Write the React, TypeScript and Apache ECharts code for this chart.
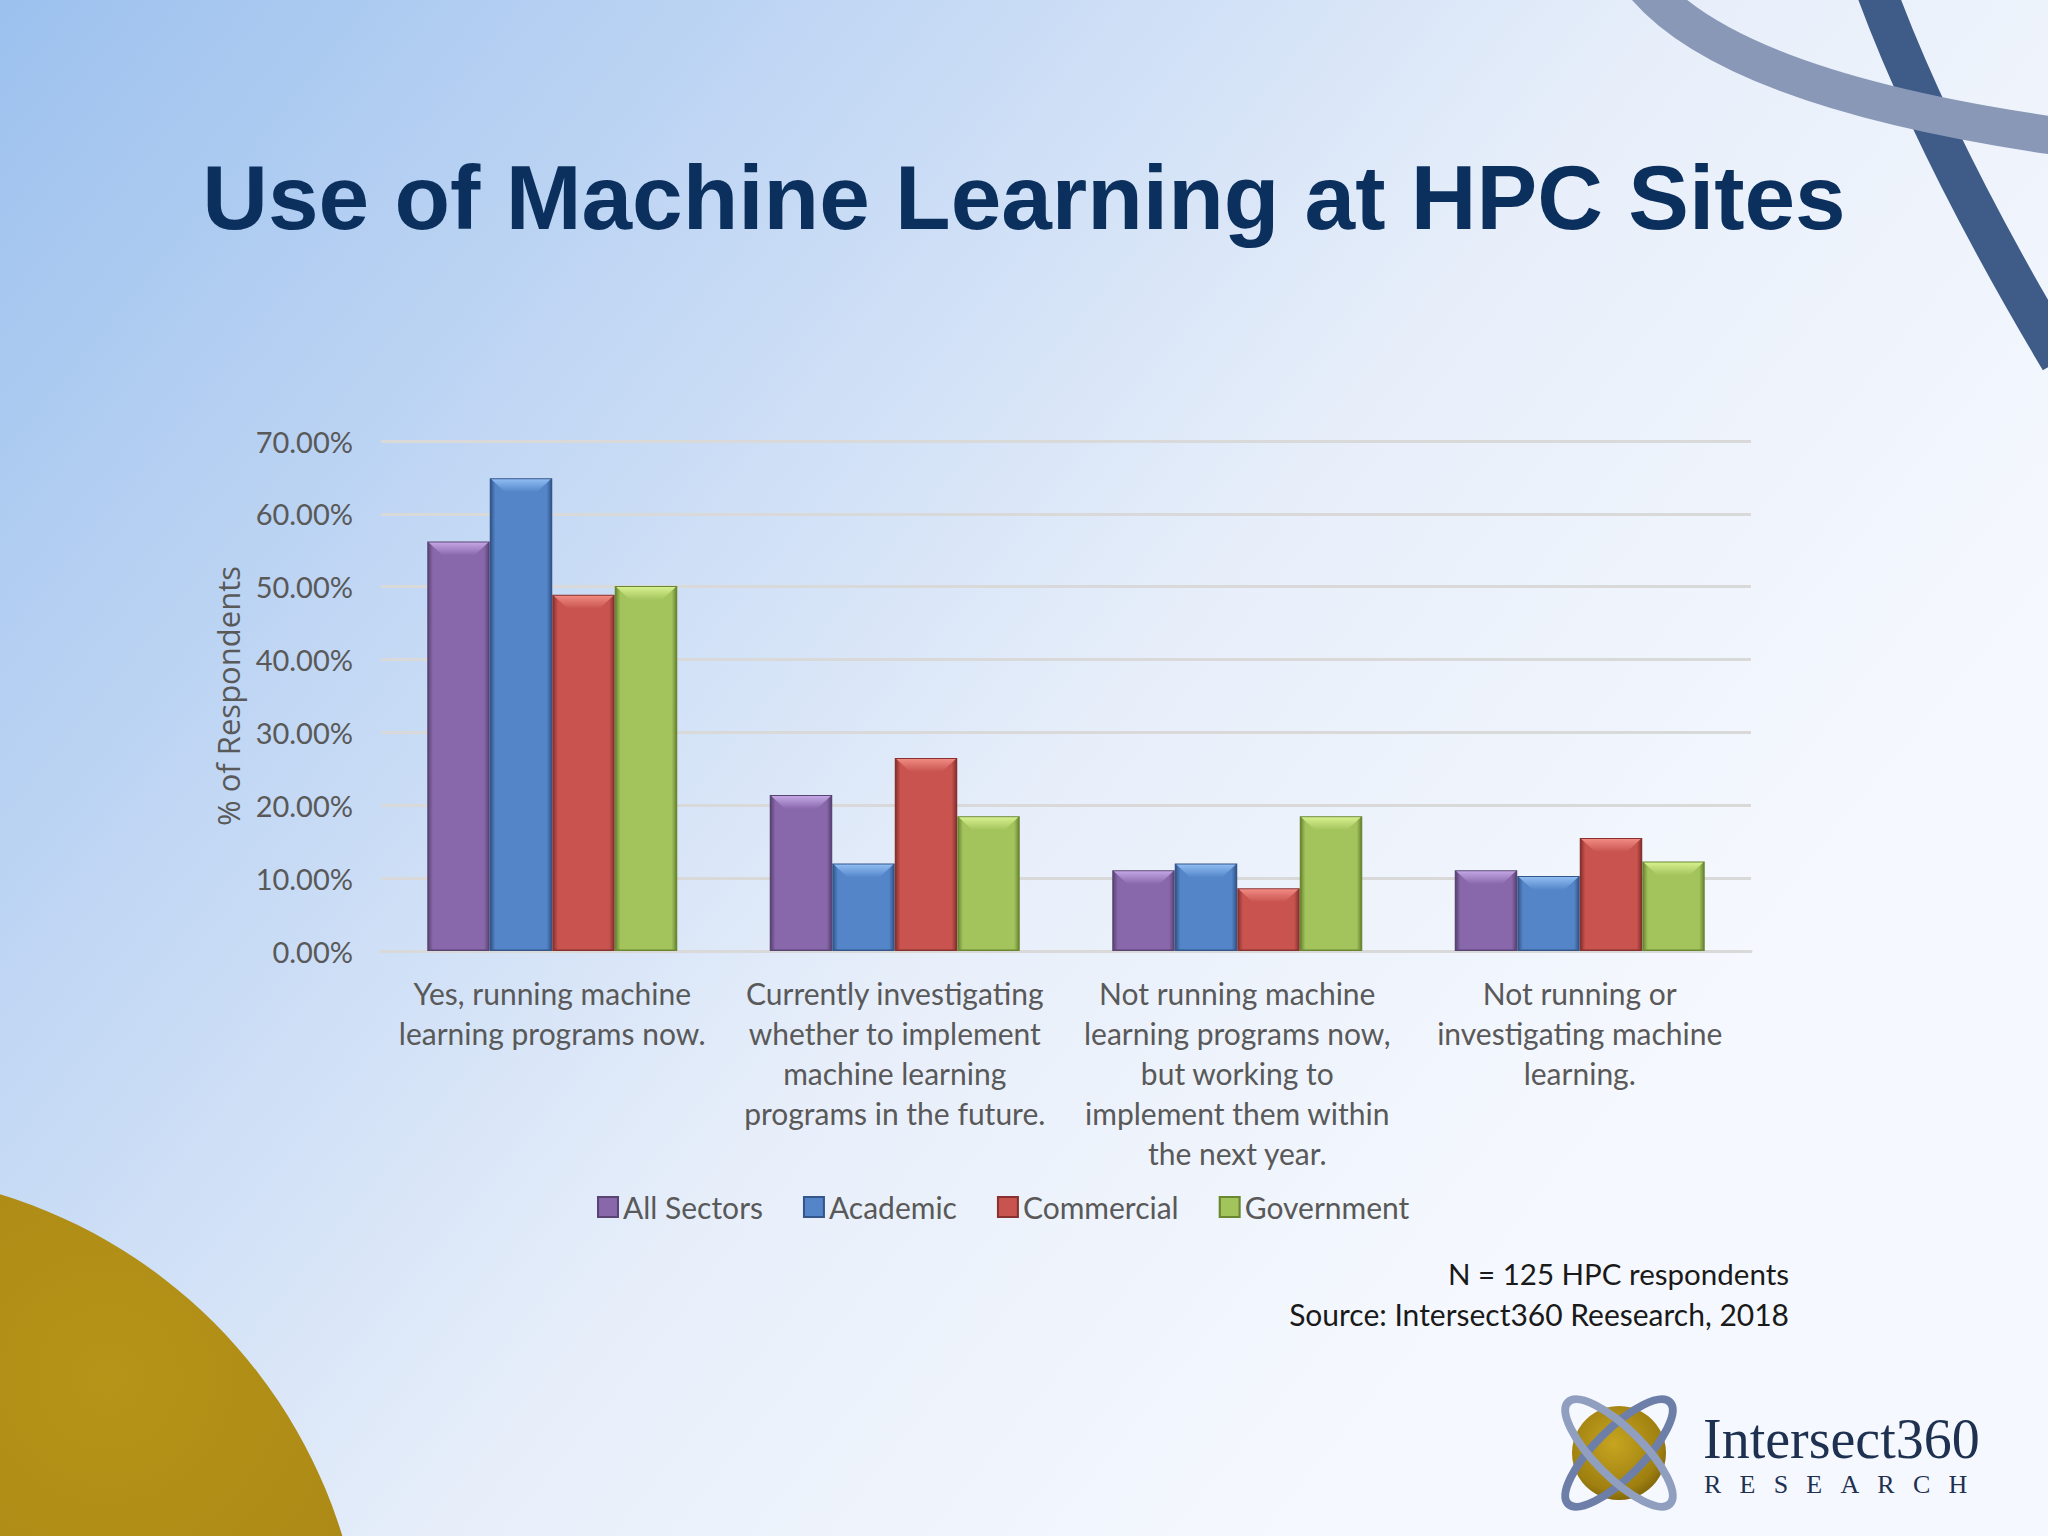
import React, { useEffect, useRef } from "react";
import * as echarts from "echarts";

const categories = [
  "Yes, running machine\nlearning programs now.",
  "Currently investigating\nwhether to implement\nmachine learning\nprograms in the future.",
  "Not running machine\nlearning programs now,\nbut working to\nimplement them within\nthe next year.",
  "Not running or\ninvestigating machine\nlearning.",
];
const seriesNames = ["All Sectors", "Academic", "Commercial", "Government"];
const allSectors = [56.2, 21.4, 11.1, 11.1];
const academic = [64.9, 12.0, 12.0, 10.3];
const commercial = [48.9, 26.5, 8.6, 15.5];
const government = [50.1, 18.5, 18.5, 12.3];
const yMin = 0;
const yMax = 70;
const yStep = 10;
const titleText = "Use of Machine Learning at HPC Sites";
const yAxisTitle = "% of Respondents";
const noteLines = ["N = 125 HPC respondents", "Source: Intersect360 Reesearch, 2018"];
const logoName = "Intersect360";
const logoSub = "RESEARCH";

const palette = [
  { base: "#8867ab", edge: "#5a4473", light: "#c3a6e4" },
  { base: "#5385c8", edge: "#34568a", light: "#8fbcf2" },
  { base: "#c8534f", edge: "#88322f", light: "#f08a82" },
  { base: "#a3c35d", edge: "#6a8732", light: "#d6f08e" },
];

const BAR_GAP_RATIO = 0.27;

function barFill(p: { base: string; edge: string; light: string }) {
  return new echarts.graphic.LinearGradient(0, 0, 1, 0, [
    { offset: 0, color: p.edge },
    { offset: 0.08, color: p.base },
    { offset: 0.92, color: p.base },
    { offset: 1, color: p.edge },
  ]);
}

export default function App() {
  const ref = useRef<HTMLDivElement>(null);
  useEffect(() => {
    document.body.style.margin = "0";
    const chart = echarts.init(ref.current!, null, { renderer: "svg" });
    const values = [allSectors, academic, commercial, government];
    const labelFont = "Lato, 'Noto Sans', sans-serif";
    const spacer = "\u2002\u2009";
    const option: any = {
      animation: false,
      backgroundColor: {
        type: "linear",
        x: 0,
        y: 0,
        x2: 0.9,
        y2: 0.55,
        colorStops: [
          { offset: 0, color: "#9cc1ee" },
          { offset: 0.38, color: "#c6daf5" },
          { offset: 0.68, color: "#e8effa" },
          { offset: 1, color: "#f5f8fe" },
        ],
      },
      graphic: [
        {
          type: "circle",
          z: -10,
          silent: true,
          shape: { cx: -150, cy: 1687, r: 515 },
          style: {
            fill: new echarts.graphic.RadialGradient(0.75, 0.2, 0.9, [
              { offset: 0, color: "#b69418" },
              { offset: 1, color: "#95720f" },
            ]),
          },
        },
        {
          type: "bezierCurve",
          z: -10,
          silent: true,
          shape: { x1: 1876, y1: -10, cpx1: 1935, cpy1: 150, x2: 2060, y2: 360 },
          style: { stroke: "#3f5c88", lineWidth: 40, fill: null },
        },
        {
          type: "bezierCurve",
          z: -9,
          silent: true,
          shape: { x1: 1645, y1: -14, cpx1: 1735, cpy1: 92, x2: 2070, y2: 138 },
          style: { stroke: "#8a98b8", lineWidth: 38, fill: null },
        },
        {
          type: "text",
          x: 1024,
          y: 197,
          style: {
            text: titleText,
            fill: "#0c305e",
            font: "bold 91px 'Liberation Sans', Arial, sans-serif",
            align: "center",
            verticalAlign: "middle",
          },
        },
        {
          type: "text",
          x: 1789,
          y: 1273,
          style: {
            text: noteLines[0],
            fill: "#1a1a1a",
            font: "29.5px " + labelFont,
            align: "right",
            verticalAlign: "middle",
          },
        },
        {
          type: "text",
          x: 1789,
          y: 1314,
          style: {
            text: noteLines[1],
            fill: "#1a1a1a",
            font: "30px " + labelFont,
            align: "right",
            verticalAlign: "middle",
          },
        },
        {
          type: "circle",
          shape: { cx: 1619, cy: 1453, r: 47 },
          style: {
            fill: new echarts.graphic.RadialGradient(0.45, 0.4, 0.7, [
              { offset: 0, color: "#c7a520" },
              { offset: 0.7, color: "#9f8010" },
              { offset: 1, color: "#6e5607" },
            ]),
          },
        },
        {
          type: "ellipse",
          x: 1619,
          y: 1453,
          rotation: Math.PI / 4,
          shape: { cx: 0, cy: 0, rx: 72, ry: 24 },
          style: { fill: null, stroke: "#6d7fa8", lineWidth: 8 },
        },
        {
          type: "ellipse",
          x: 1619,
          y: 1453,
          rotation: -Math.PI / 4,
          shape: { cx: 0, cy: 0, rx: 72, ry: 24 },
          style: { fill: null, stroke: "#909fbf", lineWidth: 8 },
        },
        {
          type: "text",
          x: 1703,
          y: 1439,
          style: {
            text: logoName,
            fill: "#1e3150",
            font: "56px 'Liberation Serif', 'DejaVu Serif', serif",
            align: "left",
            verticalAlign: "middle",
          },
        },
        {
          type: "text",
          x: 1704,
          y: 1484,
          style: {
            text: logoSub.split("").join(spacer),
            fill: "#1e3150",
            font: "26px 'Liberation Serif', 'DejaVu Serif', serif",
            align: "left",
            verticalAlign: "middle",
          },
        },
      ],
      legend: {
        left: 592,
        top: 1187,
        itemWidth: 20,
        itemHeight: 20,
        itemGap: 40,
        icon: "rect",
        data: seriesNames,
        textStyle: { fontSize: 30, fontFamily: labelFont, color: "#595959" },
      },
      grid: { left: 381, right: 297, top: 441, bottom: 585, containLabel: false },
      xAxis: {
        type: "category",
        data: categories,
        axisLine: { show: true, lineStyle: { color: "#d9d9d9", width: 3 } },
        axisTick: { show: false },
        axisLabel: {
          interval: 0,
          margin: 22,
          fontSize: 30,
          lineHeight: 40,
          fontFamily: labelFont,
          color: "#595959",
          align: "center",
        },
      },
      yAxis: {
        type: "value",
        min: yMin,
        max: yMax,
        interval: yStep,
        name: yAxisTitle,
        nameLocation: "middle",
        nameRotate: 90,
        nameGap: 138,
        nameTextStyle: {
          fontSize: 31,
          fontFamily: "'Open Sans', sans-serif",
          color: "#595959",
        },
        axisLine: { show: false },
        axisTick: { show: false },
        splitLine: { lineStyle: { color: "#d9d9d9", width: 3 } },
        axisLabel: {
          margin: 28,
          fontSize: 29,
          fontFamily: labelFont,
          color: "#595959",
          formatter: (v: number) => v.toFixed(2) + "%",
        },
      },
      series: [
        ...seriesNames.map((name, i) => ({
          name,
          type: "bar",
          data: values[i],
          barGap: "0%",
          barCategoryGap: BAR_GAP_RATIO * 100 + "%",
          itemStyle: {
            color: barFill(palette[i]),
            borderColor: palette[i].edge,
            borderWidth: 1.5,
          },
        })),
        ...seriesNames.map((name, i) => ({
          name: name + " bevel",
          type: "custom",
          silent: true,
          z: 5,
          data: values[i].map((v, k) => [k, v]),
          encode: { x: 0, y: 1 },
          renderItem: (params: any, api: any) => {
            const cat = api.value(0);
            const val = api.value(1);
            const top = api.coord([cat, val]);
            const band = api.size([1, 0])[0];
            const groupW = band * (1 - BAR_GAP_RATIO);
            const barW = groupW / seriesNames.length;
            const x0 = top[0] - groupW / 2 + i * barW + 1.5;
            const x1 = x0 + barW - 3;
            const b = Math.min(14, barW / 4);
            const p = palette[i];
            return {
              type: "polygon",
              shape: {
                points: [
                  [x0, top[1] + 1],
                  [x1, top[1] + 1],
                  [x1 - b, top[1] + b],
                  [x0 + b, top[1] + b],
                ],
              },
              style: {
                fill: new echarts.graphic.LinearGradient(0, 0, 0, 1, [
                  { offset: 0, color: p.light },
                  { offset: 1, color: p.base },
                ]),
              },
            };
          },
        })),
      ],
    };
    chart.setOption(option);
    return () => chart.dispose();
  }, []);
  return (
    <div
      ref={ref}
      style={{ position: "fixed", left: 0, top: 0, width: 2048, height: 1536 }}
    />
  );
}
